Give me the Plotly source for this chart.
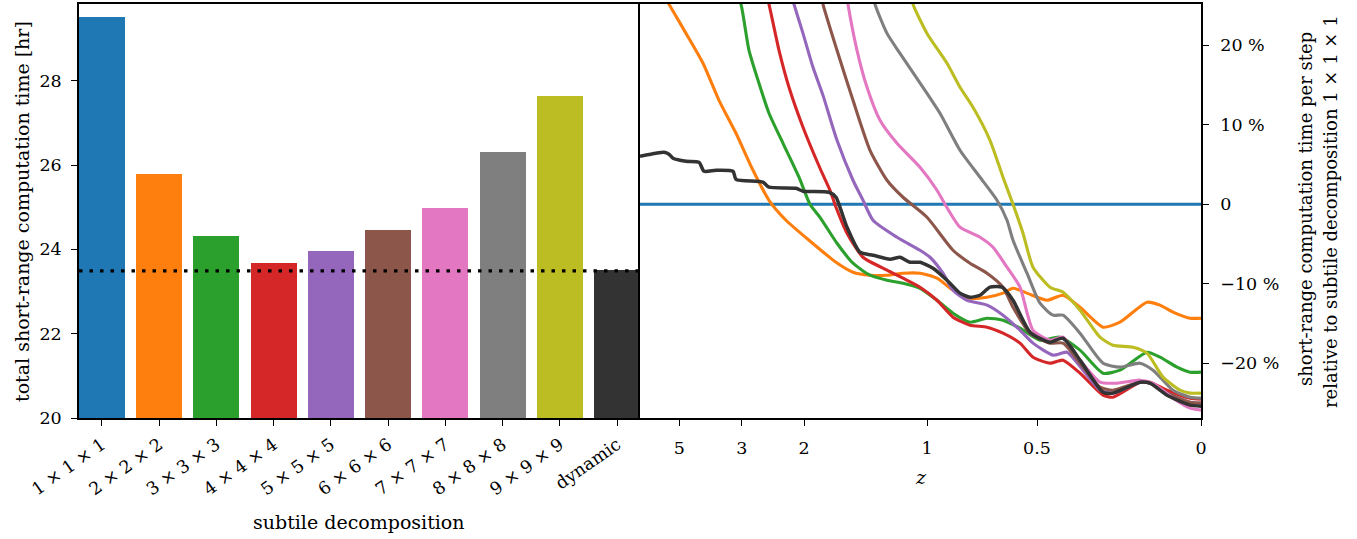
import plotly.graph_objects as go

# ---------------- left panel: bars ----------------
decomp_labels = ["1 × 1 × 1", "2 × 2 × 2", "3 × 3 × 3", "4 × 4 × 4", "5 × 5 × 5",
                 "6 × 6 × 6", "7 × 7 × 7", "8 × 8 × 8", "9 × 9 × 9", "dynamic"]
total_hours = [29.52, 25.79, 24.31, 23.67, 23.95, 24.47, 24.99, 26.32, 27.64, 23.51]
dynamic_ref = 23.49
bar_colors = ["#1f77b4", "#ff7f0e", "#2ca02c", "#d62728", "#9467bd",
              "#8c564b", "#e377c2", "#7f7f7f", "#bcbd22", "#333333"]

# ---------------- right panel: relative time per step ----------------
# x = simulation step position (0 .. 561), z tick labels placed at their steps
z_tick_steps = [39.3, 101.7, 164, 287, 397, 561]
z_tick_labels = ["5", "3", "2", "1", "0.5", "0"]

blue_x = [0, 561]
blue_y = [0, 0]

orange_x = [20, 29, 46, 63, 79, 96, 113, 129, 146, 169, 196, 213, 230, 247, 263, 280, 297, 313,
            330, 347, 363, 373, 387, 407, 423, 440, 463, 480, 507, 520, 533, 550, 561]
orange_y = [27.0, 25.16, 21.5, 17.74, 13.08, 8.93, 4.28, 0.5, -2.01, -4.53, -7.3, -8.55, -8.93,
            -8.93, -8.68, -8.68, -9.31, -10.82, -11.82, -11.7, -11.19, -10.57, -11.19, -12.08,
            -11.45, -12.96, -15.47, -14.84, -12.33, -12.7, -13.58, -14.34, -14.34]

green_x = [95, 101, 109, 119, 129, 143, 159, 170, 180, 197, 213, 230, 247, 263, 280, 297, 313,
           330, 347, 363, 380, 400, 420, 440, 463, 480, 507, 520, 537, 550, 561]
green_y = [27.0, 25.16, 19.37, 15.22, 11.45, 7.67, 3.4, 0.0, -1.64, -4.91, -7.42, -8.93, -9.56,
           -9.94, -10.57, -12.08, -13.71, -14.84, -14.34, -14.59, -15.6, -17.11, -16.73, -18.36,
           -21.26, -20.88, -18.62, -19.25, -20.5, -21.13, -21.13]

red_x = [125, 129, 139, 149, 163, 180, 190, 196, 207, 223, 247, 263, 280, 297, 313, 330, 347,
         363, 380, 393, 410, 423, 440, 463, 473, 500, 510, 527, 550, 561]
red_y = [27.0, 25.16, 19.37, 14.72, 9.69, 4.53, 1.76, -0.38, -3.65, -6.67, -8.3, -9.31, -10.44,
         -12.08, -14.21, -15.22, -15.47, -16.23, -17.48, -19.25, -20.0, -19.62, -21.26, -24.03,
         -24.28, -22.39, -22.39, -23.4, -24.4, -24.53]

purple_x = [150, 154, 163, 173, 183, 197, 213, 223, 233, 257, 280, 290, 303, 313, 327, 347, 363,
            380, 393, 413, 427, 443, 460, 473, 500, 510, 527, 550, 561]
purple_y = [27.0, 25.16, 21.5, 17.23, 13.7, 8.05, 3.02, 0.5, -2.01, -4.15, -5.79, -6.67, -8.68,
            -10.82, -12.08, -12.7, -13.96, -15.85, -17.48, -18.99, -18.62, -20.88, -23.4, -23.77,
            -22.39, -22.52, -23.77, -24.91, -25.03]

brown_x = [180, 183, 197, 213, 230, 247, 263, 287, 313, 330, 347, 363, 373, 390, 410, 423, 440,
           460, 473, 500, 510, 527, 550, 561]
brown_y = [27.0, 25.16, 19.37, 13.08, 6.79, 3.02, 0.88, -1.64, -5.79, -7.42, -8.68, -10.44,
           -12.96, -16.23, -17.48, -17.48, -20.0, -23.02, -23.4, -22.39, -22.52, -23.77, -24.91,
           -25.03]

pink_x = [206, 208, 217, 227, 240, 257, 280, 297, 305, 320, 340, 353, 367, 380, 393, 410, 423,
          440, 460, 477, 500, 513, 533, 550, 561]
pink_y = [27.0, 25.16, 19.37, 14.72, 10.57, 7.67, 4.65, 1.76, 0.0, -2.89, -4.15, -5.41, -7.92,
          -10.44, -15.85, -17.11, -16.73, -19.62, -22.39, -22.52, -22.14, -22.52, -24.4, -25.66,
          -25.91]

gray_x = [232, 235, 247, 260, 287, 300, 320, 340, 357, 367, 373, 387, 400, 413, 423, 440, 463,
          480, 500, 513, 533, 550, 561]
gray_y = [27.0, 25.16, 21.5, 18.99, 13.96, 11.45, 6.79, 3.4, 0.5, -2.01, -4.53, -8.68, -12.45,
          -13.96, -13.96, -16.23, -20.0, -20.5, -20.0, -20.88, -23.4, -24.28, -24.4]

olive_x = [270, 273, 287, 307, 320, 333, 350, 363, 373, 383, 393, 410, 423, 440, 460, 473, 493,
           507, 523, 540, 550, 561]
olive_y = [27.0, 25.16, 21.5, 17.74, 14.72, 12.2, 8.05, 3.4, 0.0, -3.65, -7.92, -10.44, -11.07,
           -13.33, -16.73, -17.74, -17.99, -18.74, -21.76, -23.4, -23.77, -23.77]

dynamic_x = [0, 16, 24, 29, 33, 46, 59, 64, 76, 93, 96, 123, 129, 156, 163, 189, 196, 200, 207,
             220, 233, 250, 260, 270, 280, 293, 307, 320, 330, 340, 350, 362, 373, 390, 410, 423,
             440, 463, 473, 500, 510, 527, 550, 561]
dynamic_y = [6.04, 6.42, 6.54, 6.29, 5.79, 5.41, 5.28, 4.15, 4.28, 4.15, 3.14, 2.77, 2.14, 2.01,
             1.64, 1.51, 0.88, -0.38, -2.89, -6.04, -6.42, -6.92, -6.67, -7.3, -7.3, -8.05,
             -9.56, -11.19, -11.7, -11.45, -10.44, -10.44, -12.08, -16.1, -17.36, -16.86,
             -19.62, -23.65, -23.77, -22.39, -22.52, -24.03, -25.28, -25.41]

pct_tick_vals = [20, 10, 0, -10, -20]
pct_tick_text = ["20 %", "10 %", "0", "−10 %", "−20 %"]

FONT = "DejaVu Serif"
FS = 17.5
FT = 19

fig = go.Figure()

fig.add_trace(go.Bar(x=list(range(len(total_hours))), y=total_hours, width=0.8,
                     marker=dict(color=bar_colors, line=dict(width=0)),
                     base=0, xaxis="x", yaxis="y", showlegend=False))
fig.add_trace(go.Scatter(x=[-0.4, 9.4], y=[dynamic_ref, dynamic_ref], mode="lines",
                         line=dict(color="black", width=3.4, dash="3.5px,7px"),
                         xaxis="x", yaxis="y", showlegend=False))

series = [
    (blue_x, blue_y, "#1f77b4", 3.1),
    (orange_x, orange_y, "#ff7f0e", 3.1),
    (green_x, green_y, "#2ca02c", 3.1),
    (red_x, red_y, "#d62728", 3.1),
    (purple_x, purple_y, "#9467bd", 3.1),
    (brown_x, brown_y, "#8c564b", 3.1),
    (pink_x, pink_y, "#e377c2", 3.1),
    (gray_x, gray_y, "#7f7f7f", 3.1),
    (olive_x, olive_y, "#bcbd22", 3.1),
    (dynamic_x, dynamic_y, "#333333", 3.5),
]
for xs, ys, col, w in series:
    fig.add_trace(go.Scatter(x=xs, y=ys, mode="lines",
                             line=dict(color=col, width=w, shape="spline", smoothing=0.6),
                             xaxis="x2", yaxis="y2", showlegend=False, hoverinfo="skip"))

axis_common = dict(showline=True, linecolor="black", linewidth=1.5,
                   ticks="outside", ticklen=6, tickwidth=1.4, tickcolor="black",
                   showgrid=False, zeroline=False,
                   tickfont=dict(family=FONT, size=FS, color="black"))

fig.update_layout(
    width=1357, height=539,
    margin=dict(l=79, r=156, t=4, b=121, autoexpand=False),
    paper_bgcolor="white", plot_bgcolor="white",
    font=dict(family=FONT, size=FS, color="black"),
    xaxis=dict(domain=[0, 0.5], range=[-0.4, 9.4], tickvals=list(range(len(decomp_labels))),
               ticktext=decomp_labels, tickangle=-35, ticklabelstandoff=2, mirror=True,
               **axis_common),
    yaxis=dict(range=[20, 29.82], tickvals=[20, 22, 24, 26, 28], ticklabelstandoff=6,
               mirror=False, **axis_common),
    xaxis2=dict(domain=[0.5, 1], range=[0, 561], tickvals=z_tick_steps, ticktext=z_tick_labels,
                anchor="y2", ticklabelstandoff=7, mirror=True, **axis_common),
    yaxis2=dict(range=[-26.9, 25.2], tickvals=pct_tick_vals, ticktext=pct_tick_text,
                anchor="x2", side="right", ticklabelstandoff=8, mirror=True, **axis_common),
    bargap=0,
)

def px_x(px):
    return (px - 79) / 1122

def px_y(py):
    return (418 - py) / 414

fig.add_annotation(text="total short-range computation time [hr]", xref="paper", yref="paper",
                   x=px_x(22), y=px_y(212), textangle=-90, showarrow=False,
                   xanchor="center", yanchor="middle", font=dict(family=FONT, size=FT))
fig.add_annotation(text="subtile decomposition", xref="paper", yref="paper",
                   x=px_x(359), y=px_y(522), showarrow=False,
                   xanchor="center", yanchor="middle", font=dict(family=FONT, size=FT))
fig.add_annotation(text="<i>z</i>", xref="paper", yref="paper",
                   x=px_x(921), y=px_y(477), showarrow=False,
                   xanchor="center", yanchor="middle", font=dict(family=FONT, size=FT))
fig.add_annotation(text="short-range computation time per step",
                   xref="paper", yref="paper", x=px_x(1305), y=px_y(209), textangle=-90,
                   showarrow=False, xanchor="center", yanchor="middle",
                   font=dict(family=FONT, size=18))
fig.add_annotation(text="relative to subtile decomposition 1 × 1 × 1",
                   xref="paper", yref="paper", x=px_x(1330), y=px_y(212), textangle=-90,
                   showarrow=False, xanchor="center", yanchor="middle",
                   font=dict(family=FONT, size=18))

fig.write_html("out.html", config={"displayModeBar": False},
               post_script="document.body.style.margin='0px';")
